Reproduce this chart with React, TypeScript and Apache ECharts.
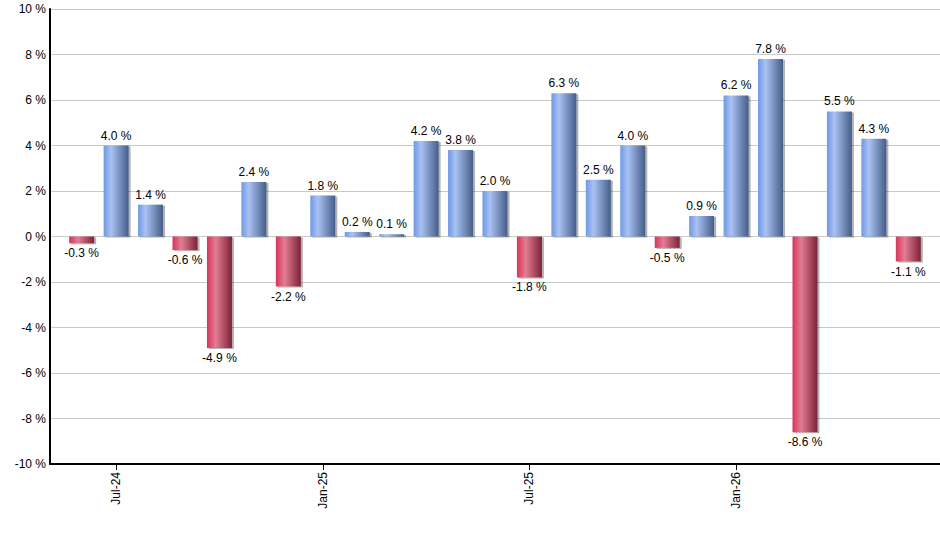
import React, { useEffect, useRef } from "react";
import * as echarts from "echarts";

const months = [
  "Jun-24", "Jul-24", "Aug-24", "Sep-24", "Oct-24", "Nov-24", "Dec-24",
  "Jan-25", "Feb-25", "Mar-25", "Apr-25", "May-25", "Jun-25",
  "Jul-25", "Aug-25", "Sep-25", "Oct-25", "Nov-25", "Dec-25",
  "Jan-26", "Feb-26", "Mar-26", "Apr-26", "May-26", "Jun-26",
];
const returns = [
  -0.3, 4.0, 1.4, -0.6, -4.9, 2.4, -2.2, 1.8, 0.2, 0.1, 4.2, 3.8, 2.0,
  -1.8, 6.3, 2.5, 4.0, -0.5, 0.9, 6.2, 7.8, -8.6, 5.5, 4.3, -1.1,
];
const labelIndices = [1, 7, 13, 19];

const blueGrad = () =>
  new echarts.graphic.LinearGradient(0, 0, 1, 0, [
    { offset: 0, color: "#6f98e6" },
    { offset: 0.3, color: "#a9c2f2" },
    { offset: 1, color: "#455d88" },
  ]);
const redGrad = () =>
  new echarts.graphic.LinearGradient(0, 0, 1, 0, [
    { offset: 0, color: "#d8345a" },
    { offset: 0.35, color: "#e27d93" },
    { offset: 1, color: "#7e2236" },
  ]);

export default function App() {
  const ref = useRef<HTMLDivElement>(null);
  useEffect(() => {
    if (!ref.current) return;
    const chart = echarts.init(ref.current, undefined, { renderer: "svg" });
    const font = "'Liberation Sans', Arial, sans-serif";
    chart.setOption({
      animation: false,
      grid: {
        left: 50,
        right: 0,
        top: 9,
        bottom: 86,
        containLabel: false,
        outerBoundsMode: "none",
      },
      xAxis: {
        type: "value",
        min: -0.92,
        max: 24.92,
        splitLine: { show: false },
        axisLine: { show: true, onZero: false, lineStyle: { color: "#000", width: 2 } },
        axisTick: {
          show: true,
          customValues: labelIndices,
          length: 6,
          lineStyle: { color: "#000", width: 1 },
        },
        axisLabel: {
          customValues: labelIndices,
          rotate: 90,
          color: "#000",
          fontFamily: font,
          fontSize: 12,
          margin: 8,
          formatter: (v: number) => months[Math.round(v)] ?? "",
        },
      },
      yAxis: {
        type: "value",
        min: -10,
        max: 10,
        interval: 2,
        axisLine: { show: true, onZero: false, lineStyle: { color: "#000", width: 2 } },
        axisTick: { show: false },
        splitLine: { lineStyle: { color: "#c8c8c8", width: 1 } },
        axisLabel: {
          color: "#000",
          fontFamily: font,
          fontSize: 12,
          margin: 4,
          formatter: (v: number) => `${v} %`,
        },
      },
      series: [
        {
          type: "bar",
          barWidth: 25,
          data: returns.map((v, i) => ({
            value: [i, v],
            itemStyle: {
              color: v >= 0 ? blueGrad() : redGrad(),
              shadowColor: "rgba(0,0,0,0.3)",
              shadowOffsetX: 2,
              shadowOffsetY: 1,
              shadowBlur: 0,
            },
            label: {
              show: true,
              position: v >= 0 ? "top" : "bottom",
              distance: 4,
              color: "#000",
              fontFamily: font,
              fontSize: 12,
              formatter: () => `${v.toFixed(1)} %`,
            },
          })),
        },
      ],
    });
    return () => chart.dispose();
  }, []);
  return (
    <div
      ref={ref}
      style={{ position: "absolute", left: 0, top: 0, width: 940, height: 550 }}
    />
  );
}
